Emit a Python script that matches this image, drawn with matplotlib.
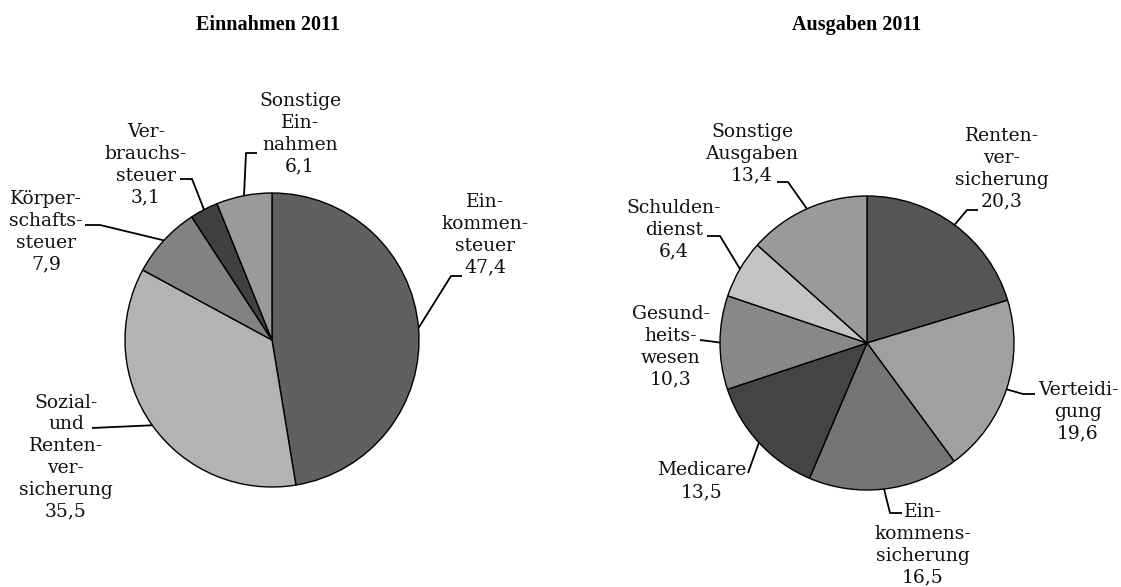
import numpy as np
import matplotlib
matplotlib.use("Agg")
import matplotlib.pyplot as plt

# Einnahmen 2011 (Anteile in %)
ein_labels = ["Ein-\nkommen-\nsteuer\n47,4", "Sozial-\nund\nRenten-\nver-\nsicherung\n35,5",
              "Körper-\nschafts-\nsteuer\n7,9", "Ver-\nbrauchs-\nsteuer\n3,1",
              "Sonstige\nEin-\nnahmen\n6,1"]
ein_values = [47.4, 35.5, 7.9, 3.1, 6.1]
ein_colors = ["#606060", "#b3b3b3", "#828282", "#404040", "#9a9a9a"]

# Ausgaben 2011 (Anteile in %)
aus_labels = ["Renten-\nver-\nsicherung\n20,3", "Verteidi-\ngung\n19,6",
              "Ein-\nkommens-\nsicherung\n16,5", "Medicare\n13,5",
              "Gesund-\nheits-\nwesen\n10,3", "Schulden-\ndienst\n6,4",
              "Sonstige\nAusgaben\n13,4"]
aus_values = [20.3, 19.6, 16.5, 13.5, 10.3, 6.4, 13.4]
aus_colors = ["#555555", "#a0a0a0", "#757575", "#444444", "#888888", "#c4c4c4", "#9a9a9a"]

W, H = 1121, 587
R = 147

# layout: text centre, elbow, end of the stub (pixel coords, y from top)
ein_layout = [
    ((485, 235), (451, 276), (462, 276)),
    ((66, 457), (92, 428), (92, 428)),
    ((46, 232), (100, 225), (85, 225)),
    ((146, 165), (192, 179), (180, 179)),
    ((300, 134), (246, 153), (257, 153)),
]
aus_layout = [
    ((1002, 169), (967, 210), (978, 210)),
    ((1078, 412), (1023, 394), (1035, 394)),
    ((923, 545), (890, 513), (902, 513)),
    ((702, 481), (748, 473), (748, 473)),
    ((671, 347), (700, 340), (700, 340)),
    ((674, 230), (720, 236), (707, 236)),
    ((752, 154), (788, 182), (777, 182)),
]

plt.rcParams["font.family"] = ["DejaVu Serif"]

fig = plt.figure(figsize=(W / 100, H / 100), dpi=100)
ax = fig.add_axes([0, 0, 1, 1])


def draw_pie(values, colors, labels, layout, center):
    cx, cy = center
    wedges, _ = ax.pie(values, colors=colors, startangle=90, counterclock=False,
                       center=(cx, H - cy), radius=R, frame=True,
                       wedgeprops=dict(edgecolor="black", linewidth=1.0))
    for w, lab, (txt, elbow, end) in zip(wedges, labels, layout):
        mid = np.deg2rad((w.theta1 + w.theta2) / 2)
        ex = cx + R * np.cos(mid)
        ey = H - cy + R * np.sin(mid)
        ax.plot([ex, elbow[0], end[0]], [ey, H - elbow[1], H - end[1]],
                color="black", lw=1.3, solid_capstyle="butt")
        ax.text(txt[0], H - txt[1], lab, ha="center", va="center",
                fontsize=13.5, linespacing=1.27, color="#111111")


draw_pie(ein_values, ein_colors, ein_labels, ein_layout, (272, 340))
draw_pie(aus_values, aus_colors, aus_labels, aus_layout, (867, 343))

ax.set_xlim(0, W)
ax.set_ylim(0, H)
ax.set_aspect("auto")
ax.axis("off")

ax.text(268, H - 25, "Einnahmen 2011", ha="center", va="center",
        fontsize=14.5, fontweight="bold", family="Liberation Serif")
ax.text(857, H - 25, "Ausgaben 2011", ha="center", va="center",
        fontsize=14.5, fontweight="bold", family="Liberation Serif")

fig.savefig("out.png", dpi=100)
